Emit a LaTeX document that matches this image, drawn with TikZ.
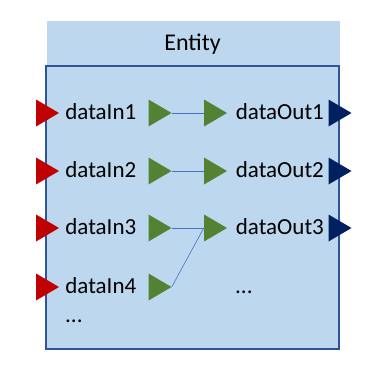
\documentclass[tikz,border=0pt]{standalone}
\usepackage{fontspec}
\setmainfont{Carlito}
\usepackage{tikz}
\usetikzlibrary{positioning}
\definecolor{entfill}{HTML}{BDD7EE}
\definecolor{entframe}{HTML}{2F5597}
\definecolor{portred}{HTML}{C00000}
\definecolor{portblue}{HTML}{002060}
\definecolor{pipegreen}{HTML}{548235}
\definecolor{linkblue}{HTML}{4472C4}

\begin{document}
\begin{tikzpicture}[
  x=1pt, y=-1pt,
  port/.style={inner sep=0pt, minimum width=23pt, minimum height=27pt,
    path picture={\fill[#1] (path picture bounding box.south west) -- (path picture bounding box.north west) -- (path picture bounding box.east) -- cycle;}},
  inport/.style={port=portred},
  outport/.style={port=portblue},
  pipe/.style={port=pipegreen},
  lbl/.style={inner sep=0pt, font=\fontsize{23}{27}\selectfont},
  portlbl/.style={lbl, yshift=1.5pt},
  header/.style={fill=entfill, minimum width=293pt, minimum height=45pt},
  body/.style={draw=entframe, line width=1.5pt, fill=entfill, minimum width=293pt, minimum height=283pt},
  link/.style={draw=linkblue, line width=0.6pt}]
\useasboundingbox (0,0) rectangle (385,378);
\node[header] (head) at (193.5,43.5) {};
\node[lbl, font=\fontsize{24}{28}\selectfont, anchor=base] (title) at (192.5,50) {Entity};
\node[body] (box) at (192.5,207.5) {};
% inputs
\foreach \i/\y in {1/113,2/171,3/228,4/287} {
  \node[inport] (in\i) at (47.5,\y) {};
  \node[portlbl, right=6pt of in\i] (inl\i) {dataIn\i};
  \node[pipe] (pi\i) at (160,\y) {};
}
% outputs
\foreach \i/\y in {1/113,2/171,3/228} {
  \node[pipe] (po\i) at (215.5,\y) {};
  \node[portlbl, right=8.5pt of po\i] (outl\i) {dataOut\i};
  \node[outport] (out\i) at (340,\y) {};
}
\node[lbl, anchor=base west] (moreIn) at (65,322) {...};
\node[lbl, anchor=base west] (moreOut) at (235,293) {...};
\draw[link] (pi1.east) -- (po1.west);
\draw[link] (pi2.east) -- (po2.west);
\draw[link] (pi3.east) -- (po3.west);
\draw[link] (pi4.east) -- (po3.west);
\end{tikzpicture}
\end{document}
